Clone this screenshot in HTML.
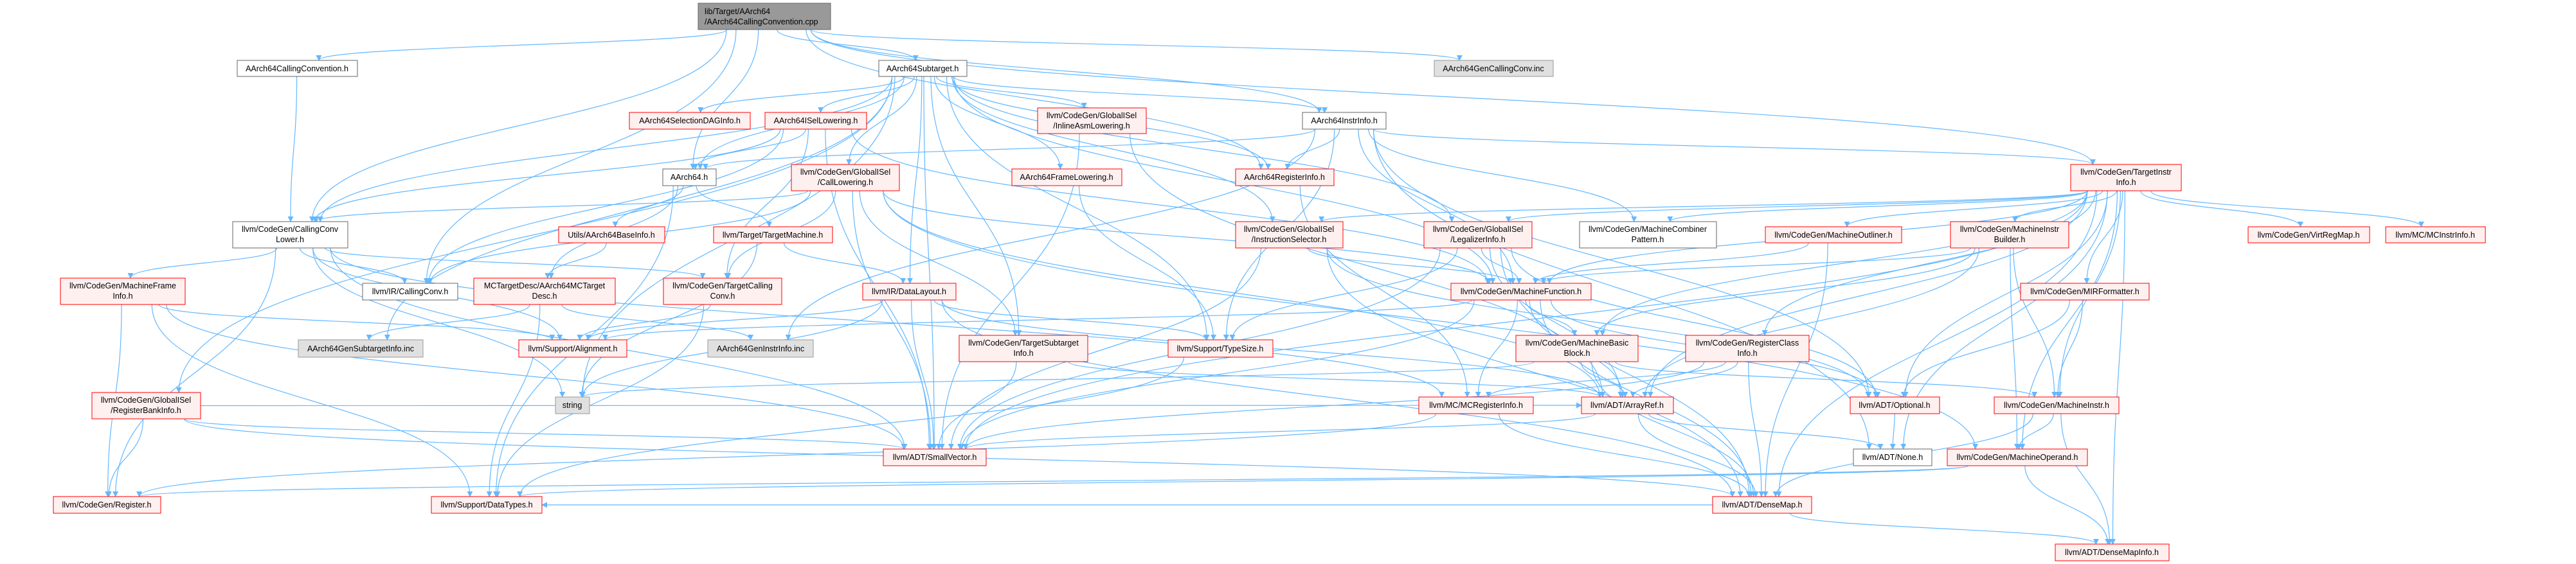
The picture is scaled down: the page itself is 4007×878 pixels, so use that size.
<!DOCTYPE html>
<html><head><meta charset="utf-8"><style>
html,body{margin:0;padding:0;background:#fff;}
svg{display:block;}
text{font-family:"Liberation Sans",Arial,sans-serif;font-size:12.5px;fill:#000;}
</style></head><body>
<svg id="g" xmlns="http://www.w3.org/2000/svg" width="4007" height="878" viewBox="0 0 4007 878">
<defs><marker id="ah" viewBox="0 0 10 10" refX="9" refY="5" markerWidth="9" markerHeight="9" markerUnits="userSpaceOnUse" orient="auto"><path d="M0,0 L10,5 L0,10 z" fill="#63b8ff"/></marker></defs>
<g id="edges" fill="none" stroke="#63b8ff" stroke-width="1.2"></g>
<g id="nodes">
<rect x="1086" y="5" width="206" height="41" fill="#999" stroke="#666"/><text x="1096" y="22">lib/Target/AArch64</text><text x="1096" y="38">/AArch64CallingConvention.cpp</text>
<rect x="369" y="94" width="187" height="25" fill="#fff" stroke="#666"/><text x="462" y="111" text-anchor="middle">AArch64CallingConvention.h</text>
<rect x="1367" y="94" width="137" height="25" fill="#fff" stroke="#666"/><text x="1435" y="111" text-anchor="middle">AArch64Subtarget.h</text>
<rect x="2231" y="94" width="185" height="25" fill="#e0e0e0" stroke="#999"/><text x="2323" y="111" text-anchor="middle">AArch64GenCallingConv.inc</text>
<rect x="979" y="175" width="188" height="26" fill="#fff0f0" stroke="#f00"/><text x="1073" y="192" text-anchor="middle">AArch64SelectionDAGInfo.h</text>
<rect x="1190" y="175" width="158" height="26" fill="#fff0f0" stroke="#f00"/><text x="1269" y="192" text-anchor="middle">AArch64ISelLowering.h</text>
<rect x="1614" y="168" width="169" height="40" fill="#fff0f0" stroke="#f00"/><text x="1698" y="184" text-anchor="middle">llvm/CodeGen/GlobalISel</text><text x="1698" y="200" text-anchor="middle">/InlineAsmLowering.h</text>
<rect x="2026" y="175" width="130" height="26" fill="#fff" stroke="#666"/><text x="2091" y="192" text-anchor="middle">AArch64InstrInfo.h</text>
<rect x="3221" y="256" width="172" height="41" fill="#fff0f0" stroke="#f00"/><text x="3307" y="272" text-anchor="middle">llvm/CodeGen/TargetInstr</text><text x="3307" y="288" text-anchor="middle">Info.h</text>
<rect x="1031" y="263" width="83" height="26" fill="#fff" stroke="#666"/><text x="1072" y="280" text-anchor="middle">AArch64.h</text>
<rect x="1231" y="256" width="168" height="41" fill="#fff0f0" stroke="#f00"/><text x="1315" y="272" text-anchor="middle">llvm/CodeGen/GlobalISel</text><text x="1315" y="288" text-anchor="middle">/CallLowering.h</text>
<rect x="1574" y="263" width="171" height="26" fill="#fff0f0" stroke="#f00"/><text x="1659" y="280" text-anchor="middle">AArch64FrameLowering.h</text>
<rect x="1922" y="263" width="153" height="26" fill="#fff0f0" stroke="#f00"/><text x="1998" y="280" text-anchor="middle">AArch64RegisterInfo.h</text>
<rect x="362" y="345" width="179" height="41" fill="#fff" stroke="#666"/><text x="451" y="361" text-anchor="middle">llvm/CodeGen/CallingConv</text><text x="451" y="377" text-anchor="middle">Lower.h</text>
<rect x="869" y="353" width="165" height="25" fill="#fff0f0" stroke="#f00"/><text x="951" y="370" text-anchor="middle">Utils/AArch64BaseInfo.h</text>
<rect x="1110" y="353" width="185" height="25" fill="#fff0f0" stroke="#f00"/><text x="1202" y="370" text-anchor="middle">llvm/Target/TargetMachine.h</text>
<rect x="1922" y="345" width="167" height="41" fill="#fff0f0" stroke="#f00"/><text x="2005" y="361" text-anchor="middle">llvm/CodeGen/GlobalISel</text><text x="2005" y="377" text-anchor="middle">/InstructionSelector.h</text>
<rect x="2215" y="345" width="168" height="41" fill="#fff0f0" stroke="#f00"/><text x="2299" y="361" text-anchor="middle">llvm/CodeGen/GlobalISel</text><text x="2299" y="377" text-anchor="middle">/LegalizerInfo.h</text>
<rect x="2457" y="345" width="213" height="41" fill="#fff" stroke="#666"/><text x="2563" y="361" text-anchor="middle">llvm/CodeGen/MachineCombiner</text><text x="2563" y="377" text-anchor="middle">Pattern.h</text>
<rect x="2746" y="353" width="212" height="25" fill="#fff0f0" stroke="#f00"/><text x="2852" y="370" text-anchor="middle">llvm/CodeGen/MachineOutliner.h</text>
<rect x="3034" y="345" width="184" height="41" fill="#fff0f0" stroke="#f00"/><text x="3126" y="361" text-anchor="middle">llvm/CodeGen/MachineInstr</text><text x="3126" y="377" text-anchor="middle">Builder.h</text>
<rect x="3497" y="353" width="189" height="25" fill="#fff0f0" stroke="#f00"/><text x="3591" y="370" text-anchor="middle">llvm/CodeGen/VirtRegMap.h</text>
<rect x="3711" y="353" width="155" height="25" fill="#fff0f0" stroke="#f00"/><text x="3788" y="370" text-anchor="middle">llvm/MC/MCInstrInfo.h</text>
<rect x="94" y="433" width="194" height="41" fill="#fff0f0" stroke="#f00"/><text x="191" y="449" text-anchor="middle">llvm/CodeGen/MachineFrame</text><text x="191" y="465" text-anchor="middle">Info.h</text>
<rect x="564" y="441" width="148" height="26" fill="#fff" stroke="#666"/><text x="638" y="458" text-anchor="middle">llvm/IR/CallingConv.h</text>
<rect x="737" y="433" width="220" height="41" fill="#fff0f0" stroke="#f00"/><text x="847" y="449" text-anchor="middle">MCTargetDesc/AArch64MCTarget</text><text x="847" y="465" text-anchor="middle">Desc.h</text>
<rect x="1032" y="433" width="184" height="41" fill="#fff0f0" stroke="#f00"/><text x="1124" y="449" text-anchor="middle">llvm/CodeGen/TargetCalling</text><text x="1124" y="465" text-anchor="middle">Conv.h</text>
<rect x="1342" y="441" width="145" height="26" fill="#fff0f0" stroke="#f00"/><text x="1414" y="458" text-anchor="middle">llvm/IR/DataLayout.h</text>
<rect x="2257" y="441" width="218" height="26" fill="#fff0f0" stroke="#f00"/><text x="2366" y="458" text-anchor="middle">llvm/CodeGen/MachineFunction.h</text>
<rect x="3143" y="441" width="200" height="26" fill="#fff0f0" stroke="#f00"/><text x="3243" y="458" text-anchor="middle">llvm/CodeGen/MIRFormatter.h</text>
<rect x="464" y="529" width="194" height="27" fill="#e0e0e0" stroke="#999"/><text x="561" y="547" text-anchor="middle">AArch64GenSubtargetInfo.inc</text>
<rect x="807" y="529" width="168" height="27" fill="#fff0f0" stroke="#f00"/><text x="891" y="547" text-anchor="middle">llvm/Support/Alignment.h</text>
<rect x="1101" y="529" width="164" height="27" fill="#e0e0e0" stroke="#999"/><text x="1183" y="547" text-anchor="middle">AArch64GenInstrInfo.inc</text>
<rect x="1492" y="522" width="200" height="41" fill="#fff0f0" stroke="#f00"/><text x="1592" y="538" text-anchor="middle">llvm/CodeGen/TargetSubtarget</text><text x="1592" y="554" text-anchor="middle">Info.h</text>
<rect x="1817" y="529" width="163" height="27" fill="#fff0f0" stroke="#f00"/><text x="1898" y="547" text-anchor="middle">llvm/Support/TypeSize.h</text>
<rect x="2358" y="522" width="190" height="41" fill="#fff0f0" stroke="#f00"/><text x="2453" y="538" text-anchor="middle">llvm/CodeGen/MachineBasic</text><text x="2453" y="554" text-anchor="middle">Block.h</text>
<rect x="2622" y="522" width="192" height="41" fill="#fff0f0" stroke="#f00"/><text x="2718" y="538" text-anchor="middle">llvm/CodeGen/RegisterClass</text><text x="2718" y="554" text-anchor="middle">Info.h</text>
<rect x="864" y="618" width="53" height="26" fill="#e0e0e0" stroke="#999"/><text x="890" y="635" text-anchor="middle">string</text>
<rect x="143" y="611" width="169" height="41" fill="#fff0f0" stroke="#f00"/><text x="227" y="627" text-anchor="middle">llvm/CodeGen/GlobalISel</text><text x="227" y="643" text-anchor="middle">/RegisterBankInfo.h</text>
<rect x="2207" y="618" width="178" height="26" fill="#fff0f0" stroke="#f00"/><text x="2296" y="635" text-anchor="middle">llvm/MC/MCRegisterInfo.h</text>
<rect x="2460" y="618" width="143" height="26" fill="#fff0f0" stroke="#f00"/><text x="2531" y="635" text-anchor="middle">llvm/ADT/ArrayRef.h</text>
<rect x="2878" y="618" width="139" height="26" fill="#fff0f0" stroke="#f00"/><text x="2947" y="635" text-anchor="middle">llvm/ADT/Optional.h</text>
<rect x="3102" y="618" width="194" height="26" fill="#fff0f0" stroke="#f00"/><text x="3199" y="635" text-anchor="middle">llvm/CodeGen/MachineInstr.h</text>
<rect x="1374" y="699" width="160" height="26" fill="#fff0f0" stroke="#f00"/><text x="1454" y="716" text-anchor="middle">llvm/ADT/SmallVector.h</text>
<rect x="2883" y="699" width="122" height="26" fill="#fff" stroke="#666"/><text x="2944" y="716" text-anchor="middle">llvm/ADT/None.h</text>
<rect x="3029" y="699" width="218" height="26" fill="#fff0f0" stroke="#f00"/><text x="3138" y="716" text-anchor="middle">llvm/CodeGen/MachineOperand.h</text>
<rect x="83" y="773" width="167" height="26" fill="#fff0f0" stroke="#f00"/><text x="166" y="790" text-anchor="middle">llvm/CodeGen/Register.h</text>
<rect x="671" y="773" width="172" height="26" fill="#fff0f0" stroke="#f00"/><text x="757" y="790" text-anchor="middle">llvm/Support/DataTypes.h</text>
<rect x="2664" y="773" width="154" height="26" fill="#fff0f0" stroke="#f00"/><text x="2741" y="790" text-anchor="middle">llvm/ADT/DenseMap.h</text>
<rect x="3197" y="847" width="177" height="26" fill="#fff0f0" stroke="#f00"/><text x="3285" y="864" text-anchor="middle">llvm/ADT/DenseMapInfo.h</text>
</g>
</svg>
<script>
var N={root:[1086,1292,5,46],acc:[369,556,94,119],sub:[1367,1504,94,119],gcc:[2231,2416,94,119],sdag:[979,1167,175,201],isel:[1190,1348,175,201],inl:[1614,1783,168,208],ii:[2026,2156,175,201],tii:[3221,3393,256,297],a64:[1031,1114,263,289],cl:[1231,1399,256,297],fl:[1574,1745,263,289],ri:[1922,2075,263,289],ccl:[362,541,345,386],bi:[869,1034,353,378],tm:[1110,1295,353,378],is:[1922,2089,345,386],li:[2215,2383,345,386],mcp:[2457,2670,345,386],mo:[2746,2958,353,378],mib:[3034,3218,345,386],vrm:[3497,3686,353,378],mci:[3711,3866,353,378],mfi:[94,288,433,474],irc:[564,712,441,467],mctd:[737,957,433,474],tcc:[1032,1216,433,474],dl:[1342,1487,441,467],mf:[2257,2475,441,467],mir:[3143,3343,441,467],gsi:[464,658,529,556],al:[807,975,529,556],gii:[1101,1265,529,556],tsi:[1492,1692,522,563],ts:[1817,1980,529,556],mbb:[2358,2548,522,563],rci:[2622,2814,522,563],str:[864,917,618,644],rbi:[143,312,611,652],mcri:[2207,2385,618,644],ar:[2460,2603,618,644],opt:[2878,3017,618,644],mi:[3102,3296,618,644],sv:[1374,1534,699,725],none:[2883,3005,699,725],mop:[3029,3247,699,725],reg:[83,250,773,799],dt:[671,843,773,799],dm:[2664,2818,773,799],dmi:[3197,3374,847,873]};
var E="root acc,root ccl,root irc,root a64,root sub,root ii,root gcc,root tii,root ri,acc ccl,sub sdag,sub isel,sub inl,sub cl,sub fl,sub ri,sub ii,sub is,sub li,sub dl,sub tsi,sub rbi,sub gsi,sub str,sub sv,sub mf,sub ccl,sub a64,sub ts,isel a64,isel ccl,isel irc,isel mf,isel tcc,isel sv,ii a64,ii ri,ii tii,ii mcp,ii opt,ii ts,ii gii,ii none,ii mf,tii mib,tii vrm,tii mci,tii mo,tii mcp,tii mf,tii mbb,tii mir,tii mi,tii mop,tii rci,tii ar,tii dm,tii dmi,tii none,tii sv,tii opt,tii is,tii li,a64 bi,a64 tm,a64 mctd,a64 dt,cl ccl,cl tcc,cl irc,cl sv,cl ar,cl mop,cl mf,cl tsi,fl ts,ri mcri,is mf,is sv,is opt,is dm,li mf,li sv,li opt,li ar,li dm,li ts,inl ar,inl sv,mo mf,mo dm,mib mi,mib mf,mib mbb,mib mop,mib ar,ccl mfi,ccl irc,ccl tcc,ccl al,ccl sv,ccl str,ccl reg,ccl mcri,mfi al,mfi reg,mfi dt,mfi sv,rbi reg,rbi sv,rbi dm,rbi ar,mctd gsi,mctd gii,mctd dt,bi mctd,tm dl,tm str,tcc al,tcc dt,dl al,dl str,dl sv,dl ts,dl ar,dl dm,tsi sv,tsi ar,mf mbb,mf ar,mf dm,mf opt,mf sv,mf mcri,mf al,mbb mi,mbb str,mbb ar,mbb dm,rci ar,rci mcri,rci sv,rci dm,mcri dm,ar none,ar sv,ar dm,opt none,mi mop,mi dmi,mi dm,mop dmi,mop reg,mop dt,dm dmi,dm dt,mir mi,mir opt,ts dt,mcri reg";
var g=document.getElementById('edges'),s='';
E.split(',').forEach(function(p){var a=N[p.split(' ')[0]],b=N[p.split(' ')[1]];if(!a||!b)return;
var sx=(a[0]+a[1])/2,sy=a[3],tx=(b[0]+b[1])/2,ty=b[2],d;
sx+=Math.max(-(a[1]-a[0])*0.35,Math.min((a[1]-a[0])*0.35,(tx-sx)*0.08));
tx+=Math.max(-(b[1]-b[0])*0.3,Math.min((b[1]-b[0])*0.3,(sx-tx)*0.05));
if(ty>sy+8){var h=(ty-sy)*0.5;d='M'+sx+','+sy+' C'+sx+','+(sy+h)+' '+tx+','+(ty-h)+' '+tx+','+ty;}
else{var y1=(a[2]+a[3])/2,y2=(b[2]+b[3])/2;if(b[0]>a[1]){sx=a[1];tx=b[0];}else{sx=a[0];tx=b[1];}var m=(sx+tx)/2;d='M'+sx+','+y1+' C'+m+','+y1+' '+m+','+y2+' '+tx+','+y2;}
s+='<path d="'+d+'" marker-end="url(#ah)"/>';});
g.innerHTML=s;
</script>
</body></html>
